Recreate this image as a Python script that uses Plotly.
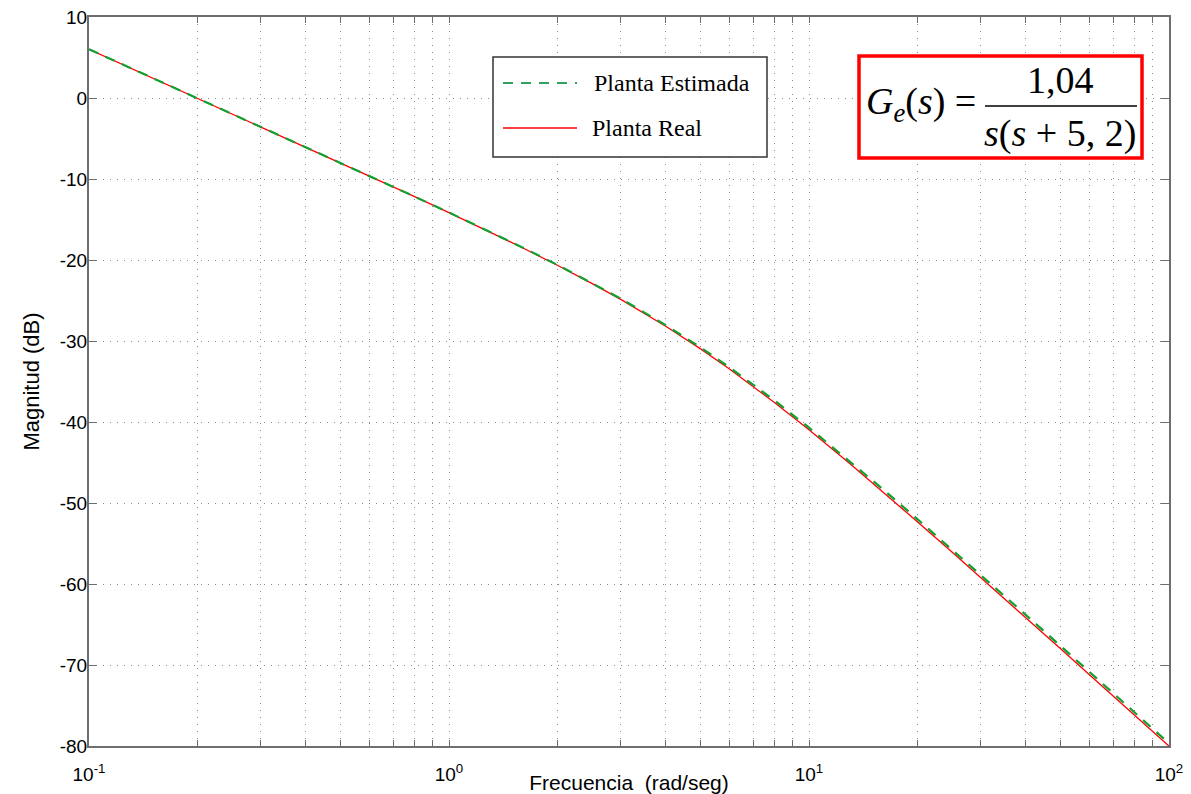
import plotly.graph_objects as go

# Frequencies (rad/s) and magnitudes (dB)
freq = [0.1, 0.13, 0.16, 0.2, 0.25, 0.3, 0.4, 0.5, 0.6, 0.8,
        1, 1.3, 1.6, 2, 2.5, 3, 4, 5, 6, 8,
        10, 13, 16, 20, 25, 30, 40, 50, 60, 80, 100]
mag_estimada = [6.02, 3.74, 1.93, -0.01, -1.95, -3.54, -6.05, -8.00, -9.60, -12.14,
                -14.14, -16.52, -18.45, -20.60, -22.84, -24.77, -28.04, -30.80, -33.22, -37.31,
                -40.70, -44.86, -48.26, -51.99, -55.76, -58.87, -63.81, -67.66, -70.82, -75.80, -79.67]
mag_real = [6.02, 3.74, 1.93, -0.01, -1.95, -3.54, -6.05, -8.00, -9.60, -12.15,
            -14.15, -16.54, -18.49, -20.65, -22.91, -24.86, -28.17, -30.97, -33.42, -37.56,
            -40.97, -45.16, -48.57, -52.31, -56.09, -59.20, -64.15, -68.00, -71.16, -76.14, -80.01]

x_tickvals = [m * 10 ** e for e in (-1, 0, 1) for m in range(1, 10)] + [100]
decade_labels = {0.1: "-1", 1: "0", 10: "1", 100: "2"}
x_ticktext = []
for v in x_tickvals:
    key = round(v, 6)
    if key in decade_labels:
        x_ticktext.append("10<sup>" + decade_labels[key] + "</sup>")
    else:
        x_ticktext.append("")
y_tickvals = list(range(-80, 11, 10))
y_ticktext = [str(v) for v in y_tickvals]

fig = go.Figure()
fig.add_trace(go.Scatter(x=freq, y=mag_real, mode="lines", name="Planta Real",
                         line=dict(color="#ff0000", width=1.3), showlegend=False))
fig.add_trace(go.Scatter(x=freq, y=mag_estimada, mode="lines", name="Planta Estimada",
                         line=dict(color="#12a030", width=2.2, dash="10px,8px"), showlegend=False))

axis_col = "#6e6e6e"
grid_col = "#8a8a8a"
fig.update_xaxes(type="log", range=[-1, 2], tickvals=x_tickvals, ticktext=x_ticktext,
                 showgrid=True, gridcolor=grid_col, griddash="1px,6px", gridwidth=1,
                 showline=True, linecolor=axis_col, linewidth=2, mirror="ticks",
                 ticks="inside", ticklen=6, tickcolor=axis_col, tickwidth=1,
                 tickfont=dict(family="Liberation Sans", size=19, color="black"),
                 ticklabelstandoff=10, zeroline=False, automargin=False,
                 title=dict(text="Frecuencia  (rad/seg)", standoff=4,
                            font=dict(family="Liberation Sans", size=21, color="black")))
fig.update_yaxes(range=[-80, 10], tickvals=y_tickvals, ticktext=y_ticktext,
                 showgrid=True, gridcolor=grid_col, griddash="1px,6px", gridwidth=1,
                 showline=True, linecolor=axis_col, linewidth=2, mirror="ticks",
                 ticks="inside", ticklen=8, tickcolor=axis_col, tickwidth=1,
                 tickfont=dict(family="Liberation Sans", size=19, color="black"),
                 ticklabelstandoff=-4, zeroline=False, automargin=False,
                 title=dict(text="Magnitud (dB)", standoff=14,
                            font=dict(family="Liberation Sans", size=22, color="black")))

W, H = 1191, 794
L, R, T, B = 89, 1169, 17, 746
pw, ph = R - L, B - T

def px(x):
    return (x - L) / pw

def py(y):
    return (B - y) / ph

shapes = []
annotations = []
# Legend box
shapes.append(dict(type="rect", xref="paper", yref="paper",
                   x0=px(493), x1=px(767), y0=py(157), y1=py(57),
                   line=dict(color="#333333", width=1.5), fillcolor="white", layer="above"))
shapes.append(dict(type="line", xref="paper", yref="paper",
                   x0=px(503), x1=px(577), y0=py(83), y1=py(83),
                   line=dict(color="#30a060", width=2, dash="10px,8px"), layer="above"))
shapes.append(dict(type="line", xref="paper", yref="paper",
                   x0=px(503), x1=px(577), y0=py(128), y1=py(128),
                   line=dict(color="#ff0000", width=1.5), layer="above"))
annotations.append(dict(xref="paper", yref="paper", x=px(592), y=py(83), xanchor="left",
                        yanchor="middle", showarrow=False, text="Planta Estimada",
                        font=dict(family="Liberation Serif", size=24, color="black")))
annotations.append(dict(xref="paper", yref="paper", x=px(590), y=py(128), xanchor="left",
                        yanchor="middle", showarrow=False, text="Planta Real",
                        font=dict(family="Liberation Serif", size=24, color="black")))
# Formula box
shapes.append(dict(type="rect", xref="paper", yref="paper",
                   x0=px(859), x1=px(1142), y0=py(158), y1=py(56),
                   line=dict(color="#ff0000", width=3.5), fillcolor="white", layer="above"))
shapes.append(dict(type="line", xref="paper", yref="paper",
                   x0=px(985), x1=px(1137), y0=py(106), y1=py(106),
                   line=dict(color="black", width=1.5), layer="above"))
fsize = 38
annotations.append(dict(xref="paper", yref="paper", x=px(978), y=py(104), xanchor="right",
                        yanchor="middle", showarrow=False,
                        text="<i>G</i><sub><i>e</i></sub>(<i>s</i>) =",
                        font=dict(family="Liberation Serif", size=fsize, color="black")))
annotations.append(dict(xref="paper", yref="paper", x=px(1060), y=py(80), xanchor="center",
                        yanchor="middle", showarrow=False, text="1,04",
                        font=dict(family="Liberation Serif", size=fsize, color="black")))
annotations.append(dict(xref="paper", yref="paper", x=px(1060), y=py(133), xanchor="center",
                        yanchor="middle", showarrow=False,
                        text="<i>s</i>(<i>s</i> + 5, 2)",
                        font=dict(family="Liberation Serif", size=fsize, color="black")))

fig.update_layout(width=W, height=H, margin=dict(l=L, r=W - R, t=T, b=H - B),
                  plot_bgcolor="white", paper_bgcolor="white",
                  shapes=shapes, annotations=annotations, showlegend=False)

fig.write_html("out.html")
